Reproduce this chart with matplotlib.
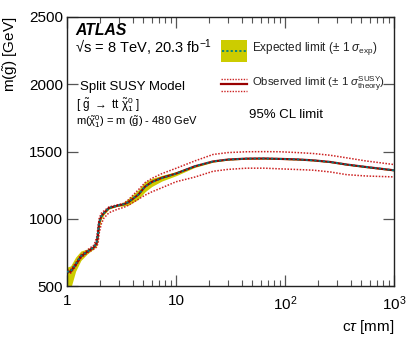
import numpy as np
import matplotlib
matplotlib.use("Agg")
import matplotlib.pyplot as plt
from matplotlib.ticker import LogLocator, FixedLocator, NullFormatter
from matplotlib.patches import Rectangle
from matplotlib.lines import Line2D

plt.rcParams['font.family'] = ['Liberation Sans', 'DejaVu Sans']
plt.rcParams['mathtext.fontset'] = 'custom'
plt.rcParams['mathtext.rm'] = 'Liberation Sans'
plt.rcParams['mathtext.it'] = 'Liberation Sans:italic'
plt.rcParams['mathtext.bf'] = 'Liberation Sans:bold'

# ---- data ----
ctau = [1.0, 1.08, 1.20, 1.34, 1.54, 1.77, 1.87, 1.93, 1.97, 2.06, 2.18, 2.43,
        2.89, 3.33, 3.65, 4.51, 5.19, 6.0, 7.4, 10, 14.9, 21.9, 30, 44.5, 65,
        89.9, 130, 182, 260, 367, 550, 1000]
observed = [607, 607, 657, 719, 756, 789, 819, 893, 968, 1017, 1042, 1080,
            1097, 1108, 1122, 1179, 1238, 1274, 1304, 1336, 1390, 1426, 1440, 1447, 1448,
            1445, 1441, 1434, 1422, 1403, 1385, 1360]
expected = [607, 607, 662, 722, 756, 789, 822, 897, 968, 1017, 1042, 1080,
            1097, 1108, 1124, 1180, 1238, 1272, 1302, 1336, 1390, 1426, 1440, 1447, 1448,
            1445, 1441, 1434, 1422, 1403, 1385, 1360]
exp_up = [640, 650, 715, 760, 775, 800, 850, 930, 1000, 1040, 1055, 1088,
          1102, 1125, 1150, 1215, 1275, 1300, 1322, 1350, 1398, 1431, 1444, 1451, 1452,
          1449, 1445, 1438, 1426, 1407, 1389, 1364]
exp_down = [450, 480, 610, 690, 740, 778, 800, 850, 930, 995, 1030, 1072,
            1092, 1095, 1100, 1145, 1200, 1240, 1280, 1320, 1382, 1421, 1436, 1443, 1444,
            1441, 1437, 1430, 1418, 1399, 1381, 1356]
theo_up = [620, 622, 672, 732, 768, 805, 860, 945, 1000, 1040, 1058, 1088,
           1103, 1115, 1140, 1215, 1268, 1300, 1335, 1375, 1430, 1478, 1492, 1498, 1499,
           1498, 1492, 1485, 1472, 1453, 1430, 1403]
theo_down = [595, 595, 645, 708, 745, 775, 790, 820, 890, 960, 1005, 1045,
             1070, 1085, 1100, 1145, 1175, 1200, 1230, 1275, 1310, 1353, 1367, 1376, 1376,
             1371, 1366, 1361, 1348, 1328, 1318, 1311]

yticks = [500, 1000, 1500, 2000, 2500]
xticks = [1, 10, 100, 1000]
xticklabels = ['1', '10', r'$10^{2}$', r'$10^{3}$']

W, H = 415, 341
fig = plt.figure(figsize=(W / 100, H / 100), dpi=100)
ax = fig.add_axes([67 / W, (H - 286) / H, (394 - 67) / W, (286 - 17) / H])

yellow = '#cccc00'
teal = '#008080'
dred = '#990000'
red = '#cc2222'

ax.fill_between(ctau, exp_down, exp_up, color=yellow, lw=0, zorder=1)
ax.plot(ctau, theo_up, color=red, lw=1.1, ls=(0, (1, 1)), zorder=2)
ax.plot(ctau, theo_down, color=red, lw=1.1, ls=(0, (1, 1)), zorder=2)
ax.plot(ctau, observed, color=dred, lw=1.6, zorder=3)
ax.plot(ctau, expected, color=teal, lw=1.3, ls=(0, (1.2, 1.2)), zorder=4)

ax.set_xscale('log')
ax.set_xlim(1, 1000)
ax.set_ylim(500, 2500)
ax.set_xticks(xticks)
ax.set_xticklabels(xticklabels)
ax.xaxis.set_minor_locator(LogLocator(base=10, subs=np.arange(2, 10)))
ax.xaxis.set_minor_formatter(NullFormatter())
ax.set_yticks(yticks)
ax.yaxis.set_minor_locator(FixedLocator([]))

ax.tick_params(axis='both', which='major', direction='in', top=True, right=True,
               length=8, width=0.9, labelsize=11, pad=3, color='#555555')
ax.tick_params(axis='x', which='minor', direction='in', top=True, length=4, width=0.8,
               color='#555555')
ax.tick_params(axis='x', which='major', pad=6)
for s in ax.spines.values():
    s.set_linewidth(1.0)
    s.set_color('#222222')

ax.set_ylabel(r'm($\mathrm{\tilde{g}}$) [GeV]', fontsize=11, loc='top', labelpad=6)
ax.set_xlabel(r'c$\tau$ [mm]', fontsize=11, loc='right', labelpad=4)

def fx(px):
    return px / W
def fy(py):
    return 1 - py / H

fig.text(fx(75), fy(35), 'ATLAS', fontsize=11.3, fontweight='bold', fontstyle='italic',
         va='baseline', ha='left')
fig.text(fx(75), fy(53), '\u221as = 8 TeV, 20.3 fb$^{-1}$', fontsize=10.5,
         va='baseline', ha='left')
fig.text(fx(80), fy(90), 'Split SUSY Model', fontsize=9.5, va='baseline', ha='left')
fig.text(fx(76), fy(109), r'[ $\mathrm{\tilde{g}}$ $\rightarrow$ tt $\mathrm{\tilde{\chi}_1^0}$ ]',
         fontsize=8.5, va='baseline', ha='left')
fig.text(fx(76), fy(125), r'm($\mathrm{\tilde{\chi}_1^0}$) = m ($\mathrm{\tilde{g}}$) - 480 GeV',
         fontsize=8, va='baseline', ha='left')

# legend
fig.patches.append(Rectangle((fx(221), fy(62)), (247 - 221) / W, (62 - 40) / H,
                             transform=fig.transFigure, color=yellow, lw=0))
fig.lines.append(Line2D([fx(222), fx(246)], [fy(51), fy(51)], transform=fig.transFigure,
                        color=teal, lw=1.3, ls=(0, (1.2, 1.2))))
fig.text(fx(252), fy(49), r'Expected limit ($\pm$ 1 $\sigma_{\mathrm{exp}}$)', fontsize=8.5,
         va='center', ha='left', color='#222222')
fig.lines.append(Line2D([fx(221), fx(247)], [fy(84), fy(84)], transform=fig.transFigure,
                        color=dred, lw=1.6))
fig.lines.append(Line2D([fx(221), fx(247)], [fy(79), fy(79)], transform=fig.transFigure,
                        color=red, lw=1.0, ls=(0, (1, 1))))
fig.lines.append(Line2D([fx(221), fx(247)], [fy(91), fy(91)], transform=fig.transFigure,
                        color=red, lw=1.0, ls=(0, (1, 1))))
fig.text(fx(252), fy(84), r'Observed limit ($\pm$ 1 $\sigma^{\mathrm{SUSY}}_{\mathrm{theory}}$)',
         fontsize=8.2, va='center', ha='left', color='#222222')
fig.text(fx(249), fy(115), '95% CL limit', fontsize=9.5, va='center', ha='left')

fig.savefig('out.png', dpi=100)
